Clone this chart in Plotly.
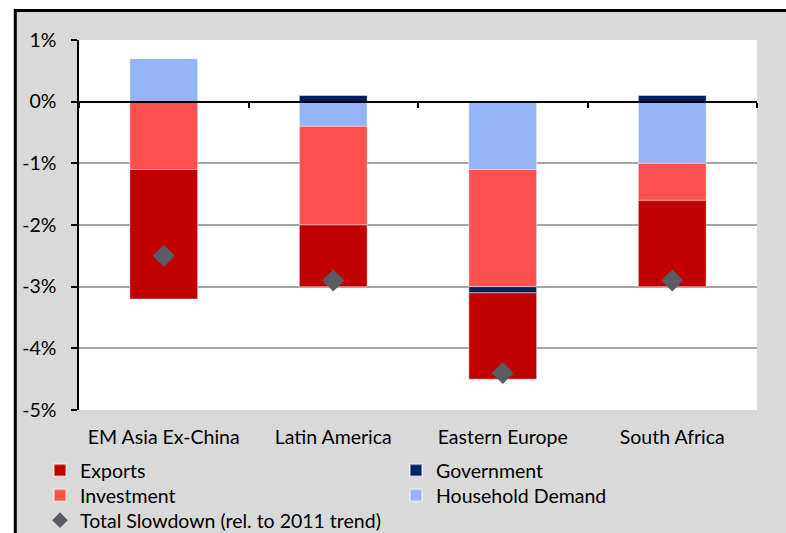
import plotly.graph_objects as go

categories = ["EM Asia Ex-China", "Latin America", "Eastern Europe", "South Africa"]
exports = [-2.1, -1.0, -1.4, -1.4]
investment = [-1.1, -1.6, -1.9, -0.6]
government = [0.0, 0.1, -0.1, 0.1]
household = [0.7, -0.4, -1.1, -1.0]
total = [-2.5, -2.9, -4.4, -2.9]

y_ticks = [-5, -4, -3, -2, -1, 0, 1]
y_labels = ["-5%", "-4%", "-3%", "-2%", "-1%", "0%", "1%"]

W, H = 786, 533
ML, MR, MT, MB = 79, 29, 40, 123
PW, PH = W - ML - MR, H - MT - MB

def px(x):
    return (x - ML) / PW

def py(y):
    return (H - MB - y) / PH

FONT = "Lato"
FS = 19.5
BW = 0.4
bar_line = dict(color="rgba(255,255,255,0.45)", width=1)

fig = go.Figure()
fig.add_trace(go.Bar(x=categories, y=household, name="Household Demand",
                     marker=dict(color="#95B4F8", line=bar_line), width=BW,
                     legend="legend2", legendrank=2))
fig.add_trace(go.Bar(x=categories, y=investment, name="Investment",
                     marker=dict(color="#FF5050", line=bar_line), width=BW,
                     legend="legend2", legendrank=1))
fig.add_trace(go.Bar(x=categories, y=government, name="Government",
                     marker=dict(color="#002060", line=bar_line), width=BW,
                     legend="legend", legendrank=2))
fig.add_trace(go.Bar(x=categories, y=exports, name="Exports",
                     marker=dict(color="#C00000", line=bar_line), width=BW,
                     legend="legend", legendrank=1))
fig.add_trace(go.Scatter(x=categories, y=total, name="Total Slowdown (rel. to 2011 trend)",
                         mode="markers", marker=dict(symbol="diamond", size=17, color="#595D63"),
                         legend="legend3"))
# helper trace for the category axis drawn at zero
fig.add_trace(go.Scatter(x=categories, y=[None] * len(categories), xaxis="x2",
                         showlegend=False, hoverinfo="skip"))

yr = [y_ticks[0], y_ticks[-1]]
zero_pos = (0 - yr[0]) / (yr[1] - yr[0])

shapes = [
    dict(type="rect", xref="paper", yref="paper", x0=px(-5), x1=px(14), y0=py(H + 5), y1=py(-5),
         fillcolor="white", line=dict(width=0), layer="above"),
    dict(type="rect", xref="paper", yref="paper", x0=px(-5), x1=px(W + 5), y0=py(9.2), y1=py(-5),
         fillcolor="white", line=dict(width=0), layer="above"),
    dict(type="line", xref="paper", yref="paper", x0=px(15.3), x1=px(15.3), y0=py(9.2), y1=py(H + 5),
         line=dict(color="black", width=3)),
    dict(type="line", xref="paper", yref="paper", x0=px(14), x1=px(W + 5), y0=py(10.6), y1=py(10.6),
         line=dict(color="black", width=3)),
]

def leg(top):
    return dict(orientation="h", x=px(40), xanchor="left", y=py(top), yanchor="top",
                bgcolor="rgba(0,0,0,0)", entrywidth=311, entrywidthmode="pixels",
                font=dict(size=FS), traceorder="normal", itemsizing="constant")

fig.update_layout(
    width=W, height=H,
    margin=dict(l=ML, r=MR, t=MT, b=MB, pad=0, autoexpand=False),
    paper_bgcolor="#D9D9D9",
    plot_bgcolor="white",
    barmode="relative",
    font=dict(family=FONT, size=FS, color="black"),
    showlegend=True,
    shapes=shapes,
    xaxis=dict(range=[-0.5, len(categories) - 0.5], showline=False, ticks="",
               showgrid=False, tickfont=dict(size=FS), ticklabelstandoff=13),
    xaxis2=dict(overlaying="x", anchor="free", position=zero_pos, side="bottom",
                range=[-0.5, len(categories) - 0.5], showline=True, linecolor="black",
                linewidth=2, ticks="outside", tickson="boundaries", ticklen=5,
                tickwidth=2, tickcolor="black", showticklabels=False, showgrid=False),
    yaxis=dict(range=yr, tickvals=y_ticks, ticktext=y_labels, showgrid=True,
               gridcolor="#A6A6A6", gridwidth=1.5, zeroline=False, showline=True,
               linecolor="black", linewidth=1.5, ticks="outside", ticklen=6,
               tickwidth=1.5, tickcolor="black", tickfont=dict(size=FS), ticklabelstandoff=11),
    legend=leg(451),
    legend2=leg(476),
    legend3=leg(501),
)

fig.write_html("out.html")
